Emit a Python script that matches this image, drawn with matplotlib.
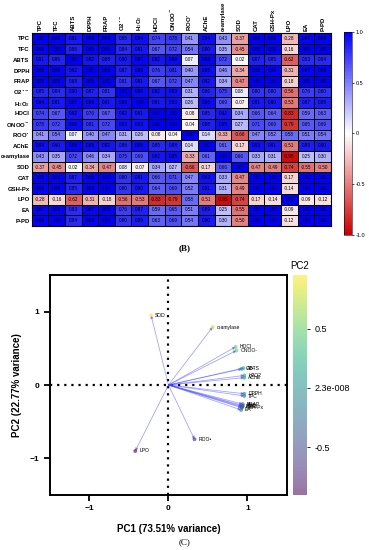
import numpy as np
import matplotlib
matplotlib.use("Agg")
import matplotlib.pyplot as plt
from matplotlib.colors import LinearSegmentedColormap, Normalize

plt.rcParams['font.family'] = ['Liberation Sans', 'DejaVu Sans']

# ---------------- data ----------------
var_labels = ['TPC', 'TFC', 'ABTS', 'DPPH', 'FRAP', r'O2$^{\bullet-}$', r'H$_2$O$_2$', 'HOCl',
              r'ONOO$^{-}$', r'ROO$^{\bullet}$', 'AChE', 'α-amylase', 'SOD', 'CAT', 'GSH-Px',
              'LPO', 'EA', 'P-PD']

corr = [
    [1.00, 0.98, 0.91, 0.98, 0.99, 0.85, 0.94, 0.74, 0.78, 0.41, 0.94, 0.43, -0.37, 0.99, 0.98, -0.28, 0.97, 0.98],
    [0.98, 1.00, 0.86, 0.98, 0.99, 0.84, 0.91, 0.67, 0.72, 0.54, 0.90, 0.35, -0.45, 0.99, 0.99, -0.16, 0.99, 1.00],
    [0.91, 0.86, 1.00, 0.92, 0.88, 0.90, 0.97, 0.92, 0.96, 0.07, 0.98, 0.72, -0.02, 0.87, 0.85, -0.62, 0.83, 0.84],
    [0.98, 0.98, 0.92, 1.00, 0.99, 0.87, 0.96, 0.76, 0.81, 0.40, 0.95, 0.46, -0.34, 0.98, 0.98, -0.31, 0.97, 0.98],
    [0.99, 0.99, 0.88, 0.99, 1.00, 0.81, 0.91, 0.67, 0.72, 0.47, 0.92, 0.34, -0.47, 1.00, 1.00, -0.18, 0.99, 1.00],
    [0.85, 0.84, 0.90, 0.87, 0.81, 1.00, 0.96, 0.92, 0.93, 0.31, 0.86, 0.75, 0.08, 0.80, 0.80, -0.56, 0.76, 0.80],
    [0.94, 0.91, 0.97, 0.96, 0.91, 0.96, 1.00, 0.91, 0.93, 0.26, 0.96, 0.69, -0.07, 0.91, 0.90, -0.53, 0.87, 0.89],
    [0.74, 0.67, 0.92, 0.76, 0.67, 0.92, 0.91, 1.00, 1.00, -0.08, 0.85, 0.92, 0.34, 0.66, 0.64, -0.83, 0.59, 0.63],
    [0.78, 0.72, 0.96, 0.81, 0.72, 0.93, 0.93, 1.00, 1.00, -0.04, 0.88, 0.95, 0.27, 0.71, 0.69, -0.79, 0.65, 0.69],
    [0.41, 0.54, 0.07, 0.40, 0.47, 0.31, 0.26, -0.08, -0.04, 1.00, 0.14, -0.33, -0.66, 0.47, 0.52, 0.58, 0.51, 0.54],
    [0.94, 0.90, 0.98, 0.95, 0.92, 0.86, 0.96, 0.85, 0.88, 0.14, 1.00, 0.61, -0.17, 0.93, 0.91, -0.51, 0.89, 0.90],
    [0.43, 0.35, 0.72, 0.46, 0.34, 0.75, 0.69, 0.92, 0.95, -0.33, 0.61, 1.00, 0.66, 0.33, 0.31, -0.95, 0.25, 0.30],
    [-0.37, -0.45, -0.02, -0.34, -0.47, 0.08, -0.07, 0.34, 0.27, -0.66, -0.17, 0.66, 1.00, -0.47, -0.49, -0.74, -0.55, -0.50],
    [0.99, 0.99, 0.87, 0.98, 1.00, 0.80, 0.91, 0.66, 0.71, 0.47, 0.93, 0.33, -0.47, 1.00, 1.00, -0.17, 1.00, 1.00],
    [0.98, 0.99, 0.85, 0.98, 1.00, 0.80, 0.90, 0.64, 0.69, 0.52, 0.91, 0.31, -0.49, 1.00, 1.00, -0.14, 1.00, 1.00],
    [-0.28, -0.16, -0.62, -0.31, -0.18, -0.56, -0.53, -0.83, -0.79, 0.58, -0.51, -0.95, -0.74, -0.17, -0.14, 1.00, -0.09, -0.12],
    [0.97, 0.99, 0.83, 0.97, 0.99, 0.76, 0.87, 0.59, 0.65, 0.51, 0.89, 0.25, -0.55, 1.00, 1.00, -0.09, 1.00, 1.00],
    [0.98, 1.00, 0.84, 0.98, 1.00, 0.80, 0.89, 0.63, 0.69, 0.54, 0.90, 0.30, -0.50, 1.00, 1.00, -0.12, 1.00, 1.00],
]

pca_labels = ['TPC', 'TFC', 'ABTS', 'DPPH', 'FRAP', 'O2•-', 'H2O2', 'HOCl', 'ONOO-', 'ROO•',
              'AChE', 'α-amylase', 'SOD', 'CAT', 'GSH-Px', 'LPO', 'EA', 'P-PD']
pc1 = [0.96, 0.94, 0.95, 0.96, 0.94, 0.93, 0.96, 0.85, 0.86, 0.33,
       0.96, 0.56, -0.22, 0.94, 0.93, -0.42, 0.92, 0.93]
pc2 = [-0.15, -0.28, 0.23, -0.12, -0.26, 0.22, 0.13, 0.52, 0.47, -0.74,
       0.10, 0.79, 0.95, -0.29, -0.31, -0.90, -0.34, -0.30]
cbar_ticks = [0.5, 2.3e-8, -0.5]
cbar_ticklabels = ['0.5', '2.3e-008', '-0.5']

# ---------------- figure ----------------
fig = plt.figure(figsize=(3.69, 5.50), dpi=100)

# Heatmap
ax = fig.add_axes([0.086, 0.589, 0.811, 0.351])
M = np.array(corr)
n = len(var_labels)
cmap = LinearSegmentedColormap.from_list('rwb', ['#c80000', '#ffffff', '#0000f5'])
ax.pcolormesh(np.arange(n + 1), np.arange(n + 1), M, cmap=cmap, vmin=-1, vmax=1,
              edgecolors='k', linewidth=0.5)
ax.set_xlim(0, n)
ax.set_ylim(n, 0)
for i in range(n):
    for j in range(n):
        ax.text(j + 0.5, i + 0.5, f'{M[i, j]:.2f}', ha='center', va='center',
                fontsize=3.3, color='black')
ax.set_xticks(np.arange(n) + 0.5)
ax.set_yticks(np.arange(n) + 0.5)
ax.set_xticklabels(var_labels, rotation=90, fontsize=4.3, fontweight='bold')
ax.set_yticklabels(var_labels, fontsize=4.3, fontweight='bold')
ax.xaxis.tick_top()
ax.tick_params(length=0, pad=1.5)
for s in ax.spines.values():
    s.set_linewidth(0.8)

cax = fig.add_axes([0.933, 0.573, 0.022, 0.369])
sm = plt.cm.ScalarMappable(norm=Normalize(-1, 1), cmap=cmap)
cb = fig.colorbar(sm, cax=cax)
cb.set_ticks([1.0, 0.5, 0, -0.5, -1.0])
cb.set_ticklabels(['1.0', '0.5', '0', '-0.5', '-1.0'])
cb.ax.tick_params(labelsize=4.0, length=1.5, width=0.5, pad=1)
cb.outline.set_linewidth(0.4)

fig.text(0.5, 0.548, '(B)', ha='center', va='center', fontsize=6.5,
         family='Liberation Serif', fontweight='bold')

# PCA biplot
ax2 = fig.add_axes([0.1355, 0.1, 0.642, 0.4])
ax2.set_xlim(-1.5, 1.5)
ax2.set_ylim(-1.5, 1.5)
ax2.axhline(0, color='black', linestyle=(0, (1, 2.2)), linewidth=1.6, zorder=1)
ax2.axvline(0, color='black', linestyle=(0, (1, 2.2)), linewidth=1.6, zorder=1)

pcmap = plt.cm.viridis
pnorm = Normalize(min(pc2), max(pc2))
for x, y in zip(pc1, pc2):
    ax2.annotate('', xy=(x, y), xytext=(0, 0),
                 arrowprops=dict(arrowstyle='-|>', color='#4a4aff', alpha=0.5,
                                 lw=0.6, mutation_scale=4, shrinkA=0, shrinkB=0),
                 zorder=2)
ax2.scatter(pc1, pc2, c=pc2, cmap=pcmap, norm=pnorm, s=8, alpha=0.6, zorder=3,
            edgecolors='none')
for lab, x, y in zip(pca_labels, pc1, pc2):
    ax2.text(x + 0.05, y, lab, fontsize=3.6, ha='left', va='center', zorder=4)

ax2.set_xticks([-1, 0, 1])
ax2.set_yticks([-1, 0, 1])
ax2.tick_params(labelsize=6, width=1.3, length=4, direction='out')
for lab in ax2.get_xticklabels() + ax2.get_yticklabels():
    lab.set_fontweight('bold')
for s in ax2.spines.values():
    s.set_linewidth(1.4)
ax2.set_xlabel('PC1 (73.51% variance)', fontsize=7, fontweight='bold', labelpad=8)
ax2.set_ylabel('PC2 (22.77% variance)', fontsize=7, fontweight='bold', labelpad=6)

cax2 = fig.add_axes([0.794, 0.1, 0.038, 0.4])
sm2 = plt.cm.ScalarMappable(norm=pnorm, cmap=pcmap)
cb2 = fig.colorbar(sm2, cax=cax2, alpha=0.55)
cb2.outline.set_visible(False)
cb2.set_ticks(cbar_ticks)
cb2.set_ticklabels(cbar_ticklabels)
cb2.ax.tick_params(labelsize=6.5, length=2, width=0.6)
cb2.ax.set_title('PC2', fontsize=7, pad=4)

fig.text(0.5, 0.015, '(C)', ha='center', va='center', fontsize=6.5,
         family='Liberation Serif')

fig.savefig('out.png', dpi=100)
